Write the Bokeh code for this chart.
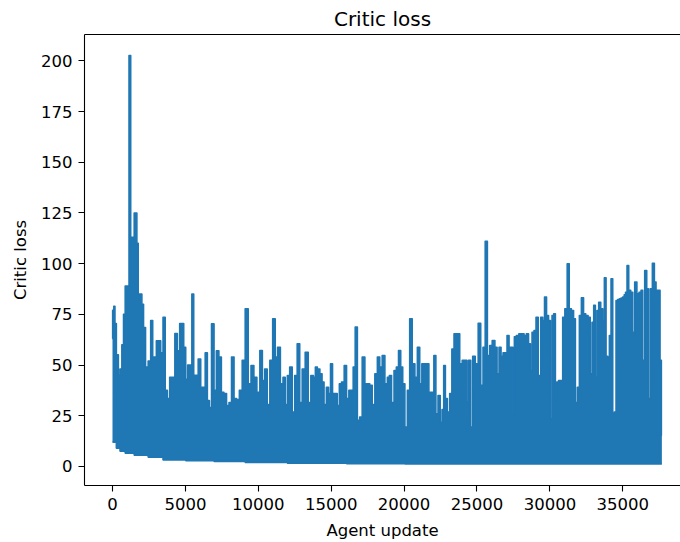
import numpy as np
from bokeh.plotting import figure
from bokeh.models import LinearAxis, FixedTicker, Range1d, ColumnDataSource
from bokeh.embed import file_html
from bokeh.resources import INLINE

# Upper envelope of the critic loss trace (update, loss)
peak_update = [
    0, 25, 150, 185, 345, 460, 574, 711, 803, 940, 1100, 1168, 1328, 1443, 1534, 1626,
    1717, 1809, 1946, 2083, 2175, 2357, 2540, 2700, 2815, 2929, 3089, 3226, 3386, 3546,
    3683, 3843, 4004, 4186, 4369, 4529, 4690, 4827, 4941, 5101, 5215, 5376, 5513, 5627,
    5787, 5970, 6130, 6290, 6427, 6587, 6701,
    6884, 7044, 7204, 7387, 7547, 7730, 7913, 8073, 8256, 8416, 8599, 8805, 8988, 9216,
    9399, 9605, 9788, 10016, 10199, 10359, 10520, 10702, 10885, 11091, 11228, 11411,
    11617, 11777, 11914, 12074, 12234, 12417, 12577, 12760, 12920, 13103, 13332, 13514,
    13697, 13857, 13972, 14132, 14315,
    14429, 14589, 14749, 14886, 15023, 15161, 15321, 15503, 15618, 15801, 15984, 16121,
    16304, 16441, 16578, 16716, 16875, 17036, 17218, 17401, 17561, 17722, 17904, 18087,
    18247, 18408, 18590, 18773, 18933, 19047, 19231, 19390, 19550, 19687, 19848, 19962,
    20145, 20305, 20465, 20648, 20831, 20991, 21151, 21288, 21448, 21608,
    21791, 21974, 22111, 22248, 22408, 22546, 22660, 22774, 22889, 23048, 23209, 23346,
    23506, 23734, 23895, 24077, 24260, 24352, 24489, 24649, 24763, 24992, 25174, 25335,
    25495, 25632, 25792, 25952, 26135, 26318, 26433, 26592, 26707, 26867, 27004, 27119,
    27278, 27415, 27507, 27621, 27781, 27964, 28147, 28307, 28467, 28604, 28719, 28833,
    28993, 29107, 29290,
    29451, 29564, 29701, 29839, 29976, 30090, 30205, 30319, 30433, 30525, 30662, 30822,
    30936, 31119, 31256, 31394, 31554, 31691, 31805, 31965, 32080, 32240, 32377, 32537,
    32697, 32834, 32949, 33063, 33177, 33292, 33405, 33566, 33680, 33794, 33909, 34023,
    34137, 34252, 34366, 34480, 34595, 34709, 34823, 34937, 35052, 35143, 35235, 35349,
    35463, 35624, 35737, 35898, 36035, 36195, 36309, 36423, 36584, 36698, 36812, 36949,
    37109, 37223, 37337, 37497, 37611, 37680,
]
peak_loss = [
    63, 77, 79, 70.5, 55, 45, 48, 60, 75, 89, 89, 202.6, 113, 113, 125, 125,
    110, 85, 85, 80, 68.5, 49, 52, 72, 54, 54, 62, 62, 56, 73.5,
    37.5, 33.5, 44, 44, 65.5, 57, 70.5, 70.5, 58.7, 43, 50, 50, 85, 45,
    45, 53, 39, 39, 56, 32.5, 29,
    70.3, 37.5, 57, 54, 36.6, 36, 30, 31.5, 54, 33.5, 33, 37.5, 52.3, 77.7,
    40.8, 49.8, 44, 36.5, 57.2, 42.4, 48, 30.5, 52.3, 72.8, 54, 58.8,
    40.8, 44, 30.5, 44.8, 49, 26.8, 44.8, 60.5, 31.5, 48, 56.3, 31.5,
    44.8, 44, 49, 48, 45.7,
    41.6, 30.5, 39, 36, 50.6, 36, 36, 30, 40.8, 41.6, 49.8, 33.5,
    37.5, 37.5, 49, 68.7, 22.7, 24.3, 54, 40.8, 40.8, 40, 30.5, 45.7,
    54, 49, 54.7, 40.8, 44, 44.8, 31.5, 47.3, 49, 57.2, 49, 40.8,
    19.4, 37.5, 72.8, 50.6, 44, 58.8, 40.8, 50.6, 50.6, 50.6,
    36.5, 36.5, 54.7, 26, 35, 21.8, 28, 49.8, 33.5, 26.8, 36, 57.9,
    65.4, 65.4, 50.6, 52.3, 52.3, 31.9, 52.3, 19.4, 54.3, 50.6, 70.6, 40,
    58.8, 111, 54.7, 59.6, 62.1, 58.8, 45.7, 58.8, 54.3, 56, 56, 64.6,
    58.8, 58.8, 26, 63.9, 64.6, 65.4, 65.4, 64.6, 65.4, 60.5, 47.3, 66.2,
    67, 73.6, 44.8,
    73.6, 72, 83.5, 74.4, 72, 23.4, 74.4, 75.3, 32, 41.6, 42.4, 42.4,
    73.6, 77.7, 99.9, 77.7, 76.9, 72.8, 31.5, 39, 74.4, 83.2, 75.3, 74.4,
    73.6, 45.7, 71.1, 79.4, 44, 76.9, 81, 77.7, 72, 93, 54.3, 53.5,
    64.6, 92.5, 26, 26.8, 81.8, 82.3, 82.7, 83, 83.5, 84.7, 85.9, 99.1,
    86.8, 85.9, 66.2, 90.9, 85.1, 85.9, 86.8, 52.3, 96.6, 87.6, 33.5, 87.6,
    100.2, 90.9, 86.8, 86.8, 52.3, 15.2,
]
# Lower envelope (noise floor) of the trace, stepwise
floor_update = [0, 200, 500, 900, 1500, 2500, 3500, 5000, 7000, 9000, 12000, 16000, 20000]
floor_loss = [12, 9, 7.5, 6.5, 5.5, 4.5, 3.2, 2.8, 2.4, 2.0, 1.6, 1.3, 1.2]

x_ticks = [0, 5000, 10000, 15000, 20000, 25000, 30000, 35000]
y_ticks = [0, 25, 50, 75, 100, 125, 150, 175, 200]

# noise floor at each envelope sample (stepwise lookup)
idx = np.searchsorted(floor_update, peak_update, side="right") - 1
floor_at_peak = [floor_loss[int(k)] for k in idx]

src = ColumnDataSource(dict(update=peak_update, loss=peak_loss, floor=floor_at_peak))

FONT = "DejaVu Sans"
INK = "black"
BLUE = "#1f77b4"

p = figure(
    width=680, height=542, output_backend="svg", toolbar_location=None,
    x_range=Range1d(-1920, 38958), y_range=Range1d(-9.4, 213.0),
    min_border_left=84, min_border_right=0, min_border_top=34, min_border_bottom=57,
    title="Critic loss",
)
# dense trace: band between the noise floor and the envelope of the peaks
p.varea_step(x="update", y1="floor", y2="loss", source=src, fill_color=BLUE, step_mode="center")
p.step("update", "loss", source=src, line_color=BLUE, line_width=1.6, mode="center", line_join="round")
p.step("update", "floor", source=src, line_color=BLUE, line_width=1.6, mode="center")

p.title.align = "center"
p.title.text_font = FONT
p.title.text_font_size = "20px"
p.title.text_font_style = "normal"
p.title.text_color = INK
p.title.standoff = 7

p.grid.visible = False
p.outline_line_color = None
p.background_fill_color = "white"
p.border_fill_color = "white"

for ax in (p.xaxis[0], p.yaxis[0]):
    ax.major_label_text_font = FONT
    ax.major_label_text_font_size = "16.5px"
    ax.major_label_text_color = INK
    ax.axis_label_text_font = FONT
    ax.axis_label_text_font_size = "16.5px"
    ax.axis_label_text_font_style = "normal"
    ax.axis_label_text_color = INK
    ax.axis_line_color = INK
    ax.axis_line_width = 1.1
    ax.major_tick_line_color = INK
    ax.major_tick_line_width = 1.1
    ax.major_tick_out = 6
    ax.major_tick_in = 0
    ax.minor_tick_line_color = None
    ax.major_label_standoff = 6
    ax.axis_label_standoff = 8

p.xaxis[0].ticker = FixedTicker(ticks=x_ticks)
p.yaxis[0].ticker = FixedTicker(ticks=y_ticks)
p.xaxis[0].axis_label = "Agent update"
p.yaxis[0].axis_label = "Critic loss"

top = LinearAxis(
    ticker=FixedTicker(ticks=[]), major_label_text_font_size="0px",
    major_tick_line_color=None, minor_tick_line_color=None,
    axis_line_color=INK, axis_line_width=1.1, major_label_standoff=0,
)
p.add_layout(top, "above")

open("out.html", "w").write(file_html(p, INLINE))
